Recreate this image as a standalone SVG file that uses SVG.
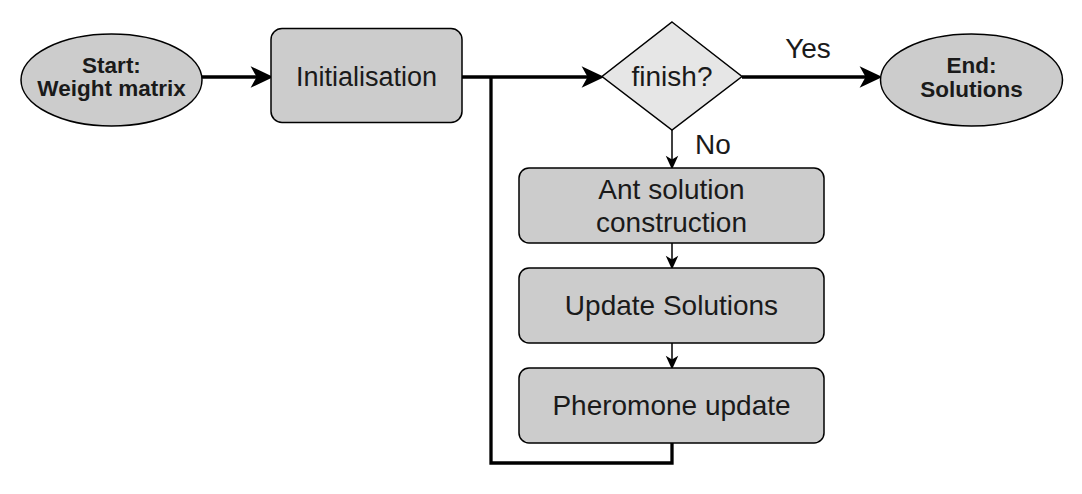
<svg xmlns="http://www.w3.org/2000/svg" width="1082" height="494" viewBox="0 0 1082 494">
  <style>
    .node { fill: #cccccc; stroke: #000000; stroke-width: 1.5; }
    .dec { fill: #e6e6e6; stroke: #000000; stroke-width: 1.5; }
    .txt { font-family: "Liberation Sans", Arial, sans-serif; font-size: 28px; fill: #1a1a1a; text-anchor: middle; }
    .btxt { font-family: "Liberation Sans", Arial, sans-serif; font-size: 22.5px; font-weight: bold; fill: #1a1a1a; text-anchor: middle; }
    .thick { fill: none; stroke: #000000; stroke-width: 3.3; }
    .thin { fill: none; stroke: #000000; stroke-width: 1.5; }
  </style>
  <defs>
    <marker id="bigArrow" markerUnits="userSpaceOnUse" markerWidth="30" markerHeight="30" refX="0" refY="0" viewBox="-10 -12 25 24" orient="auto" overflow="visible">
      <path d="M12,0 L-7,-9 L-2,0 L-7,9 Z" fill="#000000"/>
    </marker>
    <marker id="smallArrow" markerUnits="userSpaceOnUse" markerWidth="20" markerHeight="20" refX="0" refY="0" viewBox="-8 -7 16 14" orient="auto" overflow="visible">
      <path d="M6,0 L-5,-5 L-2,0 L-5,5 Z" fill="#000000"/>
    </marker>
  </defs>

  <g id="connectors">
    <path class="thick" d="M202,77 L259,77" marker-end="url(#bigArrow)"/>
    <path class="thick" d="M462,77 L590,77" marker-end="url(#bigArrow)"/>
    <path class="thick" d="M742,77 L868,77" marker-end="url(#bigArrow)"/>
    <path class="thin" d="M672,130 L672,162" marker-end="url(#smallArrow)"/>
    <path class="thin" d="M672,243 L672,262" marker-end="url(#smallArrow)"/>
    <path class="thin" d="M672,343 L672,362" marker-end="url(#smallArrow)"/>
    <path class="thick" d="M672,443 L672,463 L491,463 L491,77"/>
    <text class="txt" x="808" y="58">Yes</text>
    <text class="txt" x="713" y="154">No</text>
  </g>

  <g id="start">
    <ellipse class="node" cx="111.5" cy="80" rx="90.5" ry="46"/>
    <text class="btxt" x="111.5" y="73">Start:</text>
    <text class="btxt" x="111.5" y="96">Weight matrix</text>
  </g>

  <g id="init">
    <rect class="node" x="271" y="28.5" width="191" height="94" rx="11"/>
    <text class="txt" x="366.5" y="86" style="font-size:27px">Initialisation</text>
  </g>

  <g id="finish">
    <polygon class="dec" points="672,22 742,76.5 672,130 602,76.5"/>
    <text class="txt" x="672" y="86">finish?</text>
  </g>

  <g id="end">
    <ellipse class="node" cx="971.5" cy="80" rx="91" ry="46"/>
    <text class="btxt" x="971.5" y="73">End:</text>
    <text class="btxt" x="971.5" y="97">Solutions</text>
  </g>

  <g id="ant">
    <rect class="node" x="519" y="168" width="305" height="75" rx="10"/>
    <text class="txt" x="671.5" y="199">Ant solution</text>
    <text class="txt" x="671.5" y="232">construction</text>
  </g>

  <g id="update">
    <rect class="node" x="519" y="268" width="305" height="75" rx="10"/>
    <text class="txt" x="671.5" y="315">Update Solutions</text>
  </g>

  <g id="pheromone">
    <rect class="node" x="519" y="368" width="305" height="75" rx="10"/>
    <text class="txt" x="671.5" y="415">Pheromone update</text>
  </g>
</svg>
